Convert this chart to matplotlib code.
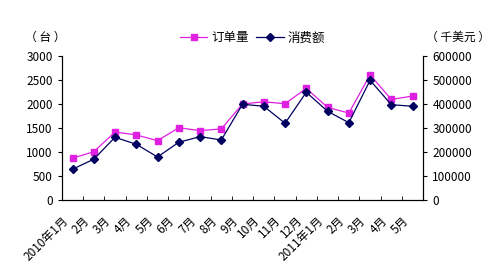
import matplotlib
matplotlib.use('Agg')
import matplotlib.pyplot as plt
import matplotlib.transforms as mtransforms
import numpy as np

plt.rcParams['font.family'] = ['Noto Sans CJK SC', 'DejaVu Sans']

months = ['2010年1月', '2月', '3月', '4月', '5月', '6月', '7月', '8月', '9月',
          '10月', '11月', '12月', '2011年1月', '2月', '3月', '4月', '5月']
orders = [870, 1005, 1415, 1355, 1235, 1505, 1445, 1480, 2000,
          2045, 2005, 2325, 1930, 1810, 2605, 2095, 2165]
spend = [128000, 169600, 261000, 232000, 179000, 240400, 263800, 250000, 398800,
         390400, 319600, 448800, 369600, 322000, 498800, 397000, 390400]

fig = plt.figure(figsize=(4.95, 2.80), dpi=100)
ax = fig.add_axes([0.125, 0.286, 0.73, 0.514])
ax2 = ax.twinx()

x = np.arange(len(months))
l1, = ax.plot(x, orders, color='#E020E0', marker='s', markersize=5, lw=0.9,
              label='订单量', zorder=3)
l2, = ax2.plot(x, spend, color='#000060', marker='D', markersize=4.5, lw=0.9,
               label='消费额', zorder=2)

ax.set_xlim(-0.5, len(months) - 0.5)
ax.set_ylim(0, 3000)
ax.set_yticks(range(0, 3001, 500))
ax2.set_ylim(0, 600000)
ax2.set_yticks(range(0, 600001, 100000))

ax.set_xticks(x)
ax.set_xticklabels(months, rotation=45, ha='right', rotation_mode='anchor', fontsize=8.5)
ax.set_xticks(np.arange(-0.5, len(months), 1), minor=True)
ax.tick_params(axis='x', which='major', length=0, pad=10)
ax.tick_params(axis='x', which='minor', direction='in', length=3)
ax.tick_params(axis='y', labelsize=8.5, length=3)
ax2.tick_params(axis='y', labelsize=8.5, length=3)

# shift the rotated month labels a little to the left, as in the original
offset = mtransforms.ScaledTranslation(-11 / 100, 0, fig.dpi_scale_trans)
for lab in ax.get_xticklabels():
    lab.set_transform(lab.get_transform() + offset)

for a in (ax, ax2):
    a.spines['top'].set_visible(False)

fig.text(0.05, 0.865, '（ 台 ）', fontsize=8.5, ha='left', va='center')
fig.text(0.99, 0.865, '（ 千美元 ）', fontsize=8.5, ha='right', va='center')

fig.legend(handles=[l1, l2], loc='center', bbox_to_anchor=(0.51, 0.865), ncol=2,
           frameon=False, fontsize=9, handlelength=2.2, columnspacing=0.6,
           handletextpad=0.3)

fig.savefig('out.png', dpi=100)
